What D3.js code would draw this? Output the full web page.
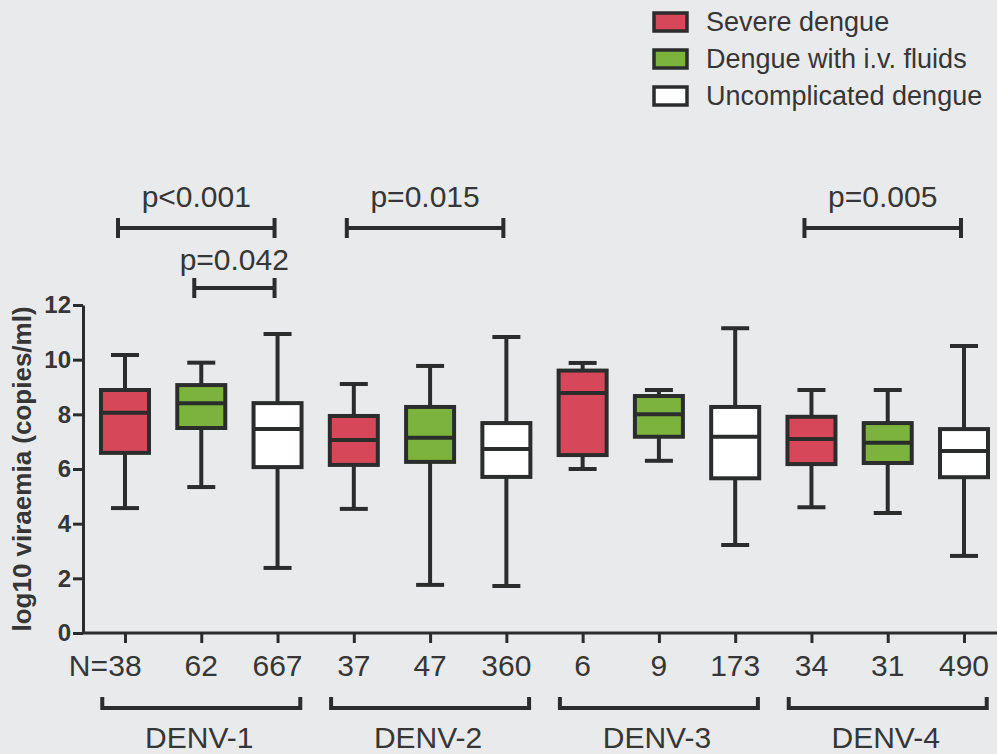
<!DOCTYPE html>
<html>
<head>
<meta charset="utf-8">
<script src="https://cdn.jsdelivr.net/npm/d3@7"></script>
<style>
  body { margin: 0; background: #e9eaec; }
  svg { display: block; font-family: Arial, "Liberation Sans", sans-serif; }
</style>
</head>
<body>
<svg id="chart" width="997" height="754"></svg>
<script>
// groups & series
var groups = ["DENV-1", "DENV-2", "DENV-3", "DENV-4"];
var series = ["Severe dengue", "Dengue with i.v. fluids", "Uncomplicated dengue"];
var seriesColors = ["#d6475a", "#7cb33c", "#ffffff"];

// one entry per box, ordered group by group
var nCounts   = [38, 62, 667, 37, 47, 360, 6, 9, 173, 34, 31, 490];
var whiskerHi = [10.17, 9.89, 10.94, 9.11, 9.77, 10.83, 9.88, 8.89, 11.15, 8.89, 8.89, 10.5];
var q3        = [8.89, 9.07, 8.41, 7.94, 8.27, 7.68, 9.6, 8.67, 8.27, 7.91, 7.68, 7.46];
var medians   = [8.06, 8.41, 7.46, 7.06, 7.14, 6.73, 8.78, 8.0, 7.18, 7.1, 6.96, 6.66];
var q1        = [6.59, 7.5, 6.07, 6.15, 6.26, 5.71, 6.51, 7.18, 5.66, 6.18, 6.22, 5.7];
var whiskerLo = [4.57, 5.34, 2.38, 4.54, 1.76, 1.72, 6.0, 6.3, 3.22, 4.6, 4.39, 2.82];

var yTicks = [0, 2, 4, 6, 8, 10, 12];

// p-value brackets
var pLabels = ["p<0.001", "p=0.042", "p=0.015", "p=0.005"];
var pFrom   = [0, 1, 3, 9];
var pTo     = [2, 2, 5, 11];
var pLevel  = [0, 1, 0, 0];

var ink = "#2b2d2c", textCol = "#363636";

var svg = d3.select("#chart");

var idx = d3.range(nCounts.length);
var x = d3.scalePoint().domain(idx).range([125, 964]);
var y = d3.scaleLinear().domain([0, 12]).range([633, 305]);

var boxW = 48, capW = 28;

// y axis
var yAxis = svg.append("g")
    .attr("transform", "translate(83,0)")
    .call(d3.axisLeft(y).tickValues(yTicks).tickSize(10).tickSizeOuter(0));
yAxis.select(".domain").attr("stroke", ink).attr("stroke-width", 3);
yAxis.selectAll(".tick line").attr("stroke", ink).attr("stroke-width", 3);
yAxis.selectAll(".tick text")
    .attr("x", -12)
    .attr("fill", textCol)
    .style("font-size", "24px")
    .style("font-weight", "bold")
    .style("font-family", "Arial, 'Liberation Sans', sans-serif");

svg.append("text")
    .attr("transform", "translate(31,469) rotate(-90)")
    .attr("text-anchor", "middle")
    .attr("fill", textCol)
    .style("font-size", "26px")
    .style("font-weight", "bold")
    .text("log10 viraemia (copies/ml)");

// x axis
svg.append("line")
    .attr("x1", 83).attr("x2", 997)
    .attr("y1", y(0)).attr("y2", y(0))
    .attr("stroke", ink).attr("stroke-width", 3);

var xAxis = svg.append("g")
    .attr("transform", "translate(0," + y(0) + ")")
    .call(d3.axisBottom(x).tickSize(10).tickFormat(""));
xAxis.select(".domain").remove();
xAxis.selectAll(".tick line").attr("stroke", ink).attr("stroke-width", 3);

svg.selectAll(".nlab")
    .data(idx)
  .enter().append("text")
    .attr("class", "nlab")
    .attr("x", function(i) { return x(i); })
    .attr("y", 676)
    .attr("text-anchor", "middle")
    .attr("fill", textCol)
    .style("font-size", "30px")
    .text(function(i) { return nCounts[i]; });

svg.append("text")
    .attr("x", x(0) - 17)
    .attr("y", 676)
    .attr("text-anchor", "end")
    .attr("fill", textCol)
    .style("font-size", "30px")
    .text("N=");

// group brackets
var grp = svg.selectAll(".grp")
    .data(groups)
  .enter().append("g")
    .attr("class", "grp");

grp.append("path")
    .attr("fill", "none")
    .attr("stroke", ink)
    .attr("stroke-width", 4)
    .attr("d", function(d, g) {
        var c = x(g * 3 + 1), l = c - 99, r = c + 99;
        return "M" + l + ",697V708H" + r + "V697";
    });

grp.append("text")
    .attr("x", function(d, g) { return x(g * 3 + 1) - 2; })
    .attr("y", 748)
    .attr("text-anchor", "middle")
    .attr("fill", textCol)
    .style("font-size", "30px")
    .text(function(d) { return d; });

// boxes
var box = svg.selectAll(".box")
    .data(idx)
  .enter().append("g")
    .attr("class", "box")
    .attr("transform", function(i) { return "translate(" + x(i) + ",0)"; });

box.append("line")
    .attr("y1", function(i) { return y(whiskerHi[i]); })
    .attr("y2", function(i) { return y(whiskerLo[i]); })
    .attr("stroke", ink).attr("stroke-width", 4);

box.append("line")
    .attr("x1", -capW / 2).attr("x2", capW / 2)
    .attr("y1", function(i) { return y(whiskerHi[i]); })
    .attr("y2", function(i) { return y(whiskerHi[i]); })
    .attr("stroke", ink).attr("stroke-width", 4);

box.append("line")
    .attr("x1", -capW / 2).attr("x2", capW / 2)
    .attr("y1", function(i) { return y(whiskerLo[i]); })
    .attr("y2", function(i) { return y(whiskerLo[i]); })
    .attr("stroke", ink).attr("stroke-width", 4);

box.append("rect")
    .attr("x", -boxW / 2)
    .attr("width", boxW)
    .attr("y", function(i) { return y(q3[i]); })
    .attr("height", function(i) { return y(q1[i]) - y(q3[i]); })
    .attr("fill", function(i) { return seriesColors[i % 3]; })
    .attr("stroke", ink).attr("stroke-width", 4);

box.append("line")
    .attr("x1", -boxW / 2).attr("x2", boxW / 2)
    .attr("y1", function(i) { return y(medians[i]); })
    .attr("y2", function(i) { return y(medians[i]); })
    .attr("stroke", ink).attr("stroke-width", 4);

// p-value brackets
var pb = svg.selectAll(".pb")
    .data(pLabels)
  .enter().append("g")
    .attr("class", "pb");

pb.append("path")
    .attr("fill", "none")
    .attr("stroke", ink)
    .attr("stroke-width", 4)
    .attr("d", function(d, k) {
        var yy = pLevel[k] ? 288 : 228;
        var l = x(pFrom[k]) - 7, r = x(pTo[k]) - 3;
        return "M" + l + "," + yy + "H" + r +
               "M" + l + "," + (yy - 10) + "V" + (yy + 10) +
               "M" + r + "," + (yy - 10) + "V" + (yy + 10);
    });

pb.append("text")
    .attr("x", function(d, k) {
        if (pLevel[k]) return x(pFrom[k]) + 33;
        return (x(pFrom[k]) + x(pTo[k])) / 2 - 5;
    })
    .attr("y", function(d, k) { return pLevel[k] ? 270 : 207; })
    .attr("text-anchor", "middle")
    .attr("fill", textCol)
    .style("font-size", "30px")
    .text(function(d) { return d; });

// legend
var leg = svg.selectAll(".leg")
    .data(series)
  .enter().append("g")
    .attr("class", "leg")
    .attr("transform", function(d, k) { return "translate(654," + (13 + k * 37) + ")"; });

leg.append("rect")
    .attr("width", 33).attr("height", 18)
    .attr("fill", function(d, k) { return seriesColors[k]; })
    .attr("stroke", ink).attr("stroke-width", 3.5);

leg.append("text")
    .attr("x", 52)
    .attr("y", 18)
    .attr("fill", textCol)
    .style("font-size", "27px")
    .text(function(d) { return d; });
</script>
</body>
</html>
